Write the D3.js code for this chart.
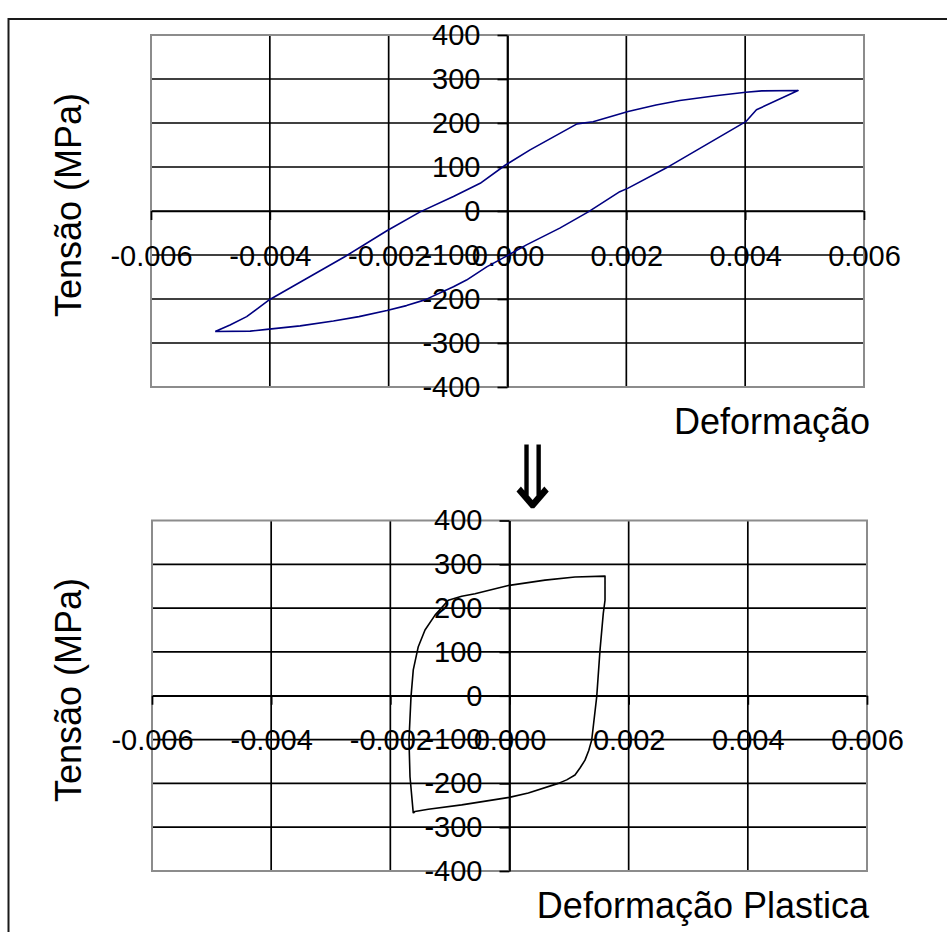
<!DOCTYPE html>
<html>
<head>
<meta charset="utf-8">
<script src="https://cdn.jsdelivr.net/npm/d3@7"></script>
<style>
  html, body { margin: 0; padding: 0; background: #fff; }
  svg { display: block; }
  text { font-family: "Liberation Sans", Arial, sans-serif; fill: #000; }
</style>
</head>
<body>
<svg id="chart" width="947" height="932"></svg>
<script>
// ---------- data ----------
const xTicks = [-0.006, -0.004, -0.002, 0, 0.002, 0.004, 0.006];
const xTickLabels = ["-0.006", "-0.004", "-0.002", "0.000", "0.002", "0.004", "0.006"];
const yTicks = [400, 300, 200, 100, 0, -100, -200, -300, -400];
const yTickLabels = ["400", "300", "200", "100", "0", "-100", "-200", "-300", "-400"];

const yTitle = "Tensão (MPa)";
const xTitleTop = "Deformação";
const xTitleBottom = "Deformação Plastica";
const arrowGlyph = "⇓";

// total strain hysteresis loop (top)
const totalStrain = [
  -0.00492, -0.00467, -0.00439, -0.00400, -0.00274, -0.00203, -0.00147, -0.00091,
  -0.00046, -0.00004, 0.00038, 0.00117, 0.00144, 0.00203, 0.00250, 0.00290, 0.00350, 0.00401, 0.00428, 0.00489,
  0.00419, 0.00401, 0.00274, 0.00203, 0.00189, 0.00136, 0.00088, 0.00032, -0.00001,
  -0.00035, -0.00069, -0.00091, -0.00139, -0.00170, -0.00203, -0.00250, -0.00293, -0.00349, -0.00405, -0.00433, -0.00492
];
const totalStress = [
  -274, -259, -240, -201, -104, -45, -2, 33,
  63, 104, 139, 198, 203, 226, 241, 251, 262, 270, 273, 274,
  230, 203, 103, 52, 44, -2, -39, -77, -102,
  -127, -157, -172, -202, -215, -226, -240, -250, -261, -269, -273, -274
];

// plastic strain loop (bottom)
const plasticStrain = [
  -0.001615, -0.00167, -0.001687, -0.001653, -0.001615, -0.001531, -0.001418, -0.00125, -0.001027,
  -0.000802, -0.000579, -0.000003, 0.000596, 0.001099, 0.001603, 0.001603, 0.001574, 0.001519, 0.001464,
  0.00138, 0.00133, 0.001267, 0.001183, 0.001099, 0.00096, 0.000819, 0.000316, -0.000003, -0.000802, -0.001363, -0.001586, -0.001615
];
const plasticStress = [
  -268, -185, -101, -2, 59, 112, 150, 184, 218,
  227, 233, 252, 264, 271, 273, 218, 188, 104, -2,
  -101, -125, -147, -165, -181, -192, -200, -222, -232, -249, -259, -264, -268
];

// ---------- drawing ----------
const svg = d3.select("#chart");

// outer chart-area border
svg.append("rect")
  .attr("x", 8.5).attr("y", 19).attr("width", 960).attr("height", 960)
  .attr("fill", "none").attr("stroke", "#1a1a1a").attr("stroke-width", 2);

function drawPanel(cfg) {
  const x = d3.scaleLinear().domain([-0.006, 0.006]).range([cfg.left, cfg.right]);
  const y = d3.scaleLinear().domain([-400, 400]).range([cfg.bottom, cfg.top]);
  const g = svg.append("g");

  // gridlines (interior)
  g.append("g").selectAll("line")
    .data(xTicks.slice(1, -1)).join("line")
    .attr("x1", d => x(d)).attr("x2", d => x(d))
    .attr("y1", cfg.top).attr("y2", cfg.bottom)
    .attr("stroke", "#000").attr("stroke-width", 1.7);
  g.append("g").selectAll("line")
    .data(yTicks.slice(1, -1)).join("line")
    .attr("x1", cfg.left).attr("x2", cfg.right)
    .attr("y1", d => y(d)).attr("y2", d => y(d))
    .attr("stroke", "#000").attr("stroke-width", 1.7);

  // plot-area border
  g.append("rect")
    .attr("x", cfg.left).attr("y", cfg.top)
    .attr("width", cfg.right - cfg.left).attr("height", cfg.bottom - cfg.top)
    .attr("fill", "none").attr("stroke", "#8c8c8c").attr("stroke-width", 2);

  // x axis at y = 0
  const xAxis = d3.axisBottom(x).tickValues(xTicks)
    .tickFormat((d, i) => xTickLabels[i])
    .tickSize(9).tickSizeOuter(0).tickPadding(25);
  const gx = g.append("g").attr("transform", `translate(0,${y(0)})`).call(xAxis);
  gx.select(".domain").attr("stroke", "#000").attr("stroke-width", 1.7);
  gx.selectAll(".tick line").attr("stroke", "#000").attr("stroke-width", 1.7);
  gx.selectAll(".tick text").attr("font-size", 29).attr("font-family", "Liberation Sans, Arial, sans-serif").attr("fill", "#000");

  // y axis at x = 0
  const yAxis = d3.axisLeft(y).tickValues(yTicks)
    .tickFormat((d, i) => yTickLabels[i])
    .tickSize(10).tickSizeOuter(0).tickPadding(17);
  const gy = g.append("g").attr("transform", `translate(${x(0)},0)`).call(yAxis);
  gy.select(".domain").attr("stroke", "#000").attr("stroke-width", 1.7);
  gy.selectAll(".tick line").attr("stroke", "#000").attr("stroke-width", 1.7);
  gy.selectAll(".tick text").attr("font-size", 29).attr("font-family", "Liberation Sans, Arial, sans-serif").attr("fill", "#000");

  // curve
  const pts = cfg.xs.map((v, i) => [v, cfg.ys[i]]);
  g.append("path")
    .datum(pts)
    .attr("d", d3.line().x(d => x(d[0])).y(d => y(d[1])).curve(d3.curveLinear))
    .attr("fill", "none").attr("stroke", cfg.color).attr("stroke-width", 1.6)
    .attr("stroke-linejoin", "round");

  // titles
  g.append("text")
    .attr("transform", `translate(${cfg.yTitleX},${cfg.yTitleY}) rotate(-90)`)
    .attr("text-anchor", "middle").attr("font-size", 36)
    .text(yTitle);
  g.append("text")
    .attr("x", cfg.xTitleX).attr("y", cfg.xTitleY)
    .attr("text-anchor", "end").attr("font-size", 36)
    .text(cfg.xTitle);
}

drawPanel({
  left: 151, right: 864, top: 35, bottom: 387,
  xs: totalStrain, ys: totalStress, color: "#000080",
  yTitleX: 81, yTitleY: 205, xTitle: xTitleTop, xTitleX: 870, xTitleY: 434
});
drawPanel({
  left: 152, right: 867, top: 520.5, bottom: 871,
  xs: plasticStrain, ys: plasticStress, color: "#000",
  yTitleX: 81, yTitleY: 690, xTitle: xTitleBottom, xTitleX: 869, xTitleY: 918
});

// arrow between the panels
svg.append("text")
  .attr("transform", "translate(532,508) scale(1.3,1.5)")
  .attr("x", 0).attr("y", 0)
  .attr("text-anchor", "middle")
  .attr("font-family", "DejaVu Sans")
  .attr("font-size", 58)
  .text(arrowGlyph);
</script>
</body>
</html>
